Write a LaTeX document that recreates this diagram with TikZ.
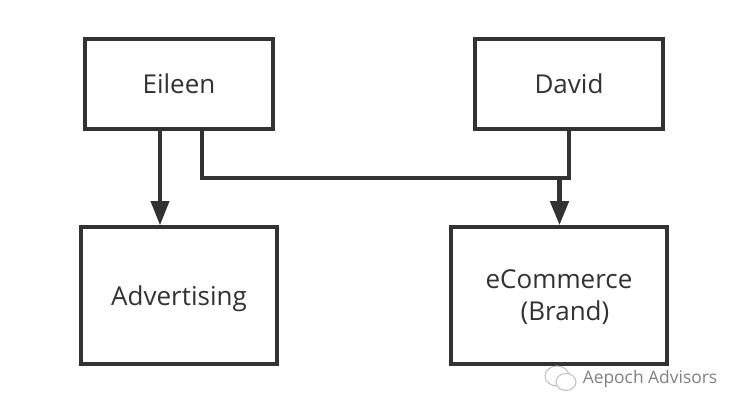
\documentclass[tikz,border=0pt]{standalone}
\usepackage{fontspec}
\setmainfont{Open Sans}
\usetikzlibrary{arrows.meta}

\definecolor{linegray}{HTML}{323232}
\tikzset{
   boxnode/.style={draw=linegray,line width=3.6pt,fill=white,inner sep=0pt,text=linegray,font=\fontsize{26}{32}\selectfont,align=center,text depth=0pt},
   linkline/.style={draw=linegray,line width=3.6pt,line join=miter},
   arrowline/.style={linkline,-{Triangle[length=24pt,width=18pt]}},
   markbubble/.style={draw=black!25,line width=1pt,fill=white}
}

\begin{document}
\begin{tikzpicture}[x=1pt,y=-1pt]

   \useasboundingbox (0,0) rectangle (740,413);

   % boxes
   \node[boxnode,minimum width=188pt,minimum height=90pt] (eileen) at (179,84) {Eileen};
   \node[boxnode,minimum width=188pt,minimum height=90pt] (david) at (569,84) {David};
   \node[boxnode,minimum width=196pt,minimum height=137pt] (advertising) at (179,295.5) {Advertising};
   \node[boxnode,minimum width=216pt,minimum height=137pt] (ecommerce) at (559,295.5) {eCommerce\\\hspace*{12pt}(Brand)};

   % bend and where the arrow starts
   \coordinate (bendleft) at (202,178);
   \coordinate (bendright) at (569,178);
   \coordinate (joint) at (559.5,178);

   % connectors
   \draw[linkline] (bendleft |- eileen.south) -- (bendleft) -- (bendright) -- (bendright |- david.south);
   \draw[arrowline] (160,0 |- eileen.south) -- (160,0 |- advertising.north);
   \draw[arrowline,line width=4.6pt] (joint) -- (joint |- ecommerce.north);

   % mark in the corner
   \draw[markbubble] (557,376) ellipse (12pt and 10pt);
   \draw[markbubble] (566,382) ellipse (10pt and 8.5pt);
   \node[inner sep=0pt,text=black!50,font=\fontsize{17.4}{20}\selectfont] (mark) at (650,379) {Aepoch Advisors};

\end{tikzpicture}
\end{document}
